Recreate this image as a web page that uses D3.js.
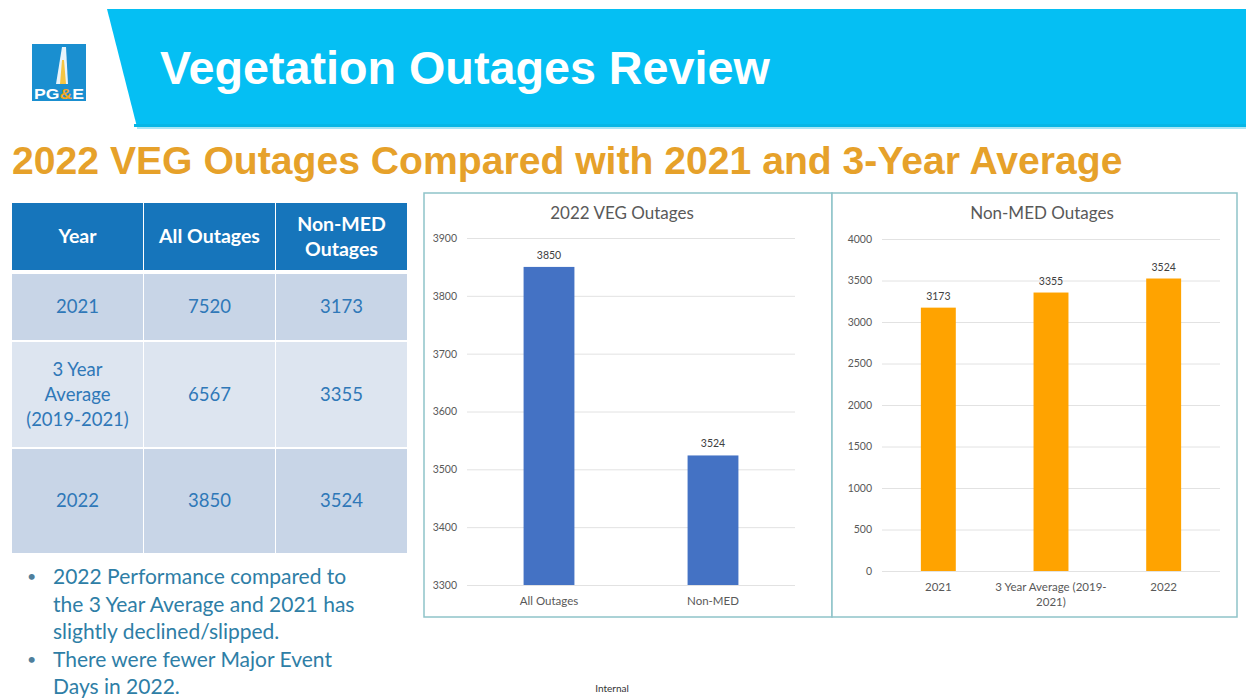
<!DOCTYPE html>
<html>
<head>
<meta charset="utf-8">
<script src="https://cdn.jsdelivr.net/npm/d3@7"></script>
<style>
  html, body { margin: 0; padding: 0; background: #ffffff; }
  svg { display: block; }
</style>
</head>
<body>
<svg id="slide" width="1246" height="698"></svg>
<script>
// ---- Data ----
const tableHeaders = ["Year", "All Outages", "Non-MED\nOutages"];
const tableYears = ["2021", "3 Year\nAverage\n(2019-2021)", "2022"];
const tableAllOutages = [7520, 6567, 3850];
const tableNonMed = [3173, 3355, 3524];

const vegCategories = ["All Outages", "Non-MED"];
const vegValues = [3850, 3524];
const vegTicks = [3300, 3400, 3500, 3600, 3700, 3800, 3900];

const nonMedCategories = ["2021", "3 Year Average (2019-\n2021)", "2022"];
const nonMedValues = [3173, 3355, 3524];
const nonMedTicks = [0, 500, 1000, 1500, 2000, 2500, 3000, 3500, 4000];

const bullets = [
  ["2022 Performance compared to", "the 3 Year Average and 2021 has", "slightly declined/slipped."],
  ["There were fewer Major Event", "Days in 2022."]
];

const svg = d3.select("#slide");
const bodyFont = "Lato, 'Open Sans', sans-serif";
const headFont = "'Liberation Sans', Arial, sans-serif";

// ---- Header band ----
svg.append("path")
  .attr("d", "M107,9 L1246,9 L1246,127 L137,127 Z")
  .attr("fill", "#05bff3");
svg.append("rect").attr("x", 134).attr("y", 124).attr("width", 1112).attr("height", 3)
  .attr("fill", "#06b6e6");
svg.append("rect").attr("x", 137).attr("y", 127).attr("width", 1109).attr("height", 2)
  .attr("fill", "#a8e6f6");

function fitText(sel, width) {
  const w = sel.node().getComputedTextLength();
  const fs = parseFloat(sel.attr("font-size"));
  sel.attr("font-size", fs * width / w);
}

const title = svg.append("text")
  .attr("x", 160).attr("y", 84)
  .attr("font-family", headFont).attr("font-weight", "bold")
  .attr("font-size", 38).attr("fill", "#ffffff")
  .text("Vegetation Outages Review");
fitText(title, 610);

// ---- Logo ----
const logo = svg.append("g");
logo.append("rect").attr("x", 32).attr("y", 44).attr("width", 54).attr("height", 57).attr("fill", "#1a8fd0");
logo.append("path").attr("d", "M62,47 L66,47 L68,84 L56,84 Z").attr("fill", "#ffffff").attr("opacity", 0.9);
logo.append("path").attr("d", "M62,60 L64,60 L66,84 L60,84 Z").attr("fill", "#f4c542");
logo.append("text").attr("x", 34).attr("y", 99)
  .attr("font-family", headFont).attr("font-weight", "bold").attr("font-size", 15)
  .attr("fill", "#ffffff").attr("textLength", 50).attr("lengthAdjust", "spacingAndGlyphs")
  .html('PG<tspan fill="#f4a81d">&amp;</tspan>E');

// ---- Subtitle ----
const sub = svg.append("text")
  .attr("x", 12).attr("y", 174)
  .attr("font-family", headFont).attr("font-weight", "bold")
  .attr("font-size", 32).attr("fill", "#e6a12a")
  .text("2022 VEG Outages Compared with 2021 and 3-Year Average");
fitText(sub, 1111);

// ---- Table ----
const colX = [12, 144, 276];
const colW = 131;
const rowY = [203, 274, 342, 449];
const rowH = [67, 66, 105, 104];
const rowFill = ["#1675bb", "#c8d5e7", "#dde5f0", "#c8d5e7"];
const tbl = svg.append("g");

function cellText(g, x, y, lines, opts) {
  const lh = opts.lh;
  const t = g.append("text")
    .attr("text-anchor", "middle")
    .attr("font-family", bodyFont)
    .attr("font-size", opts.size)
    .attr("font-weight", opts.weight || "normal")
    .attr("fill", opts.fill);
  lines.forEach((ln, i) => {
    t.append("tspan").attr("x", x)
      .attr("y", y + (i - (lines.length - 1) / 2) * lh + opts.size * 0.35)
      .text(ln);
  });
}

const rows = [tableHeaders].concat(tableYears.map((y, i) => [y, String(tableAllOutages[i]), String(tableNonMed[i])]));
rows.forEach((row, r) => {
  row.forEach((val, c) => {
    tbl.append("rect")
      .attr("x", colX[c]).attr("y", rowY[r])
      .attr("width", colW).attr("height", rowH[r])
      .attr("fill", rowFill[r]);
    const header = r === 0;
    cellText(tbl, colX[c] + colW / 2, rowY[r] + rowH[r] / 2, val.split("\n"), {
      size: header ? 19.5 : 18.5,
      lh: 25,
      weight: header ? "bold" : "normal",
      fill: header ? "#ffffff" : "#2f78b8"
    });
  });
});

// ---- Bullets ----
let by = 584;
bullets.forEach(b => {
  svg.append("text").attr("x", 27).attr("y", by - 2)
    .attr("font-family", bodyFont).attr("font-size", 16).attr("fill", "#4f7f9c").text("•");
  b.forEach(line => {
    const t = svg.append("text").attr("x", 53).attr("y", by)
      .attr("font-family", bodyFont).attr("font-size", 21).attr("fill", "#2e7ea6")
      .text(line);
    by += 27.5;
  });
});

svg.append("text").attr("x", 612).attr("y", 692)
  .attr("text-anchor", "middle")
  .attr("font-family", bodyFont).attr("font-size", 10).attr("fill", "#333333")
  .text("Internal");

// ---- Bar chart helper ----
function barChart(opts) {
  const g = svg.append("g");
  g.append("rect")
    .attr("x", opts.box[0]).attr("y", opts.box[1])
    .attr("width", opts.box[2]).attr("height", opts.box[3])
    .attr("fill", "#ffffff").attr("stroke", "#8fc3c9").attr("stroke-width", 1.5);

  g.append("text")
    .attr("x", opts.titleX).attr("y", 219)
    .attr("text-anchor", "middle")
    .attr("font-family", bodyFont).attr("font-size", 17).attr("fill", "#595959")
    .text(opts.title);

  const x = d3.scaleBand().domain(opts.categories).range(opts.xRange)
    .paddingInner(0.69).paddingOuter(0.345);
  const y = d3.scaleLinear().domain(opts.yDomain).range(opts.yRange);

  const yAxis = g.append("g")
    .attr("transform", `translate(${opts.xRange[0]},0)`)
    .call(d3.axisLeft(y).tickValues(opts.ticks)
      .tickSize(-(opts.xRange[1] - opts.xRange[0])).tickPadding(10)
      .tickFormat(d3.format("d")));
  yAxis.select(".domain").remove();
  yAxis.selectAll(".tick line").attr("stroke", "#e2e2e2").attr("stroke-width", 1);
  yAxis.selectAll(".tick text")
    .attr("font-family", bodyFont).attr("font-size", 10.5).attr("fill", "#595959");

  g.selectAll("rect.bar").data(opts.values).join("rect")
    .attr("class", "bar")
    .attr("x", (d, i) => x(opts.categories[i]))
    .attr("y", d => y(d))
    .attr("width", x.bandwidth())
    .attr("height", d => y(opts.yDomain[0]) - y(d))
    .attr("fill", opts.color);

  g.selectAll("text.val").data(opts.values).join("text")
    .attr("class", "val")
    .attr("x", (d, i) => x(opts.categories[i]) + x.bandwidth() / 2)
    .attr("y", d => y(d) - 8)
    .attr("text-anchor", "middle")
    .attr("font-family", bodyFont).attr("font-size", 10.5).attr("fill", "#404040")
    .text(d => d);

  opts.categories.forEach(c => {
    const t = g.append("text")
      .attr("text-anchor", "middle")
      .attr("font-family", bodyFont).attr("font-size", 11.5).attr("fill", "#595959");
    c.split("\n").forEach((ln, i) => {
      t.append("tspan")
        .attr("x", x(c) + x.bandwidth() / 2)
        .attr("y", opts.yRange[0] + opts.labelGap + i * 15)
        .text(ln);
    });
  });
}

barChart({
  box: [424, 193, 408, 424],
  title: "2022 VEG Outages", titleX: 622,
  categories: vegCategories, values: vegValues, ticks: vegTicks,
  xRange: [467, 795], yDomain: [3300, 3900], yRange: [585, 238],
  color: "#4472c4", labelGap: 20
});

barChart({
  box: [832, 193, 405, 424],
  title: "Non-MED Outages", titleX: 1042,
  categories: nonMedCategories, values: nonMedValues, ticks: nonMedTicks,
  xRange: [882, 1220], yDomain: [0, 4000], yRange: [571, 239],
  color: "#ffa300", labelGap: 20
});
</script>
</body>
</html>
